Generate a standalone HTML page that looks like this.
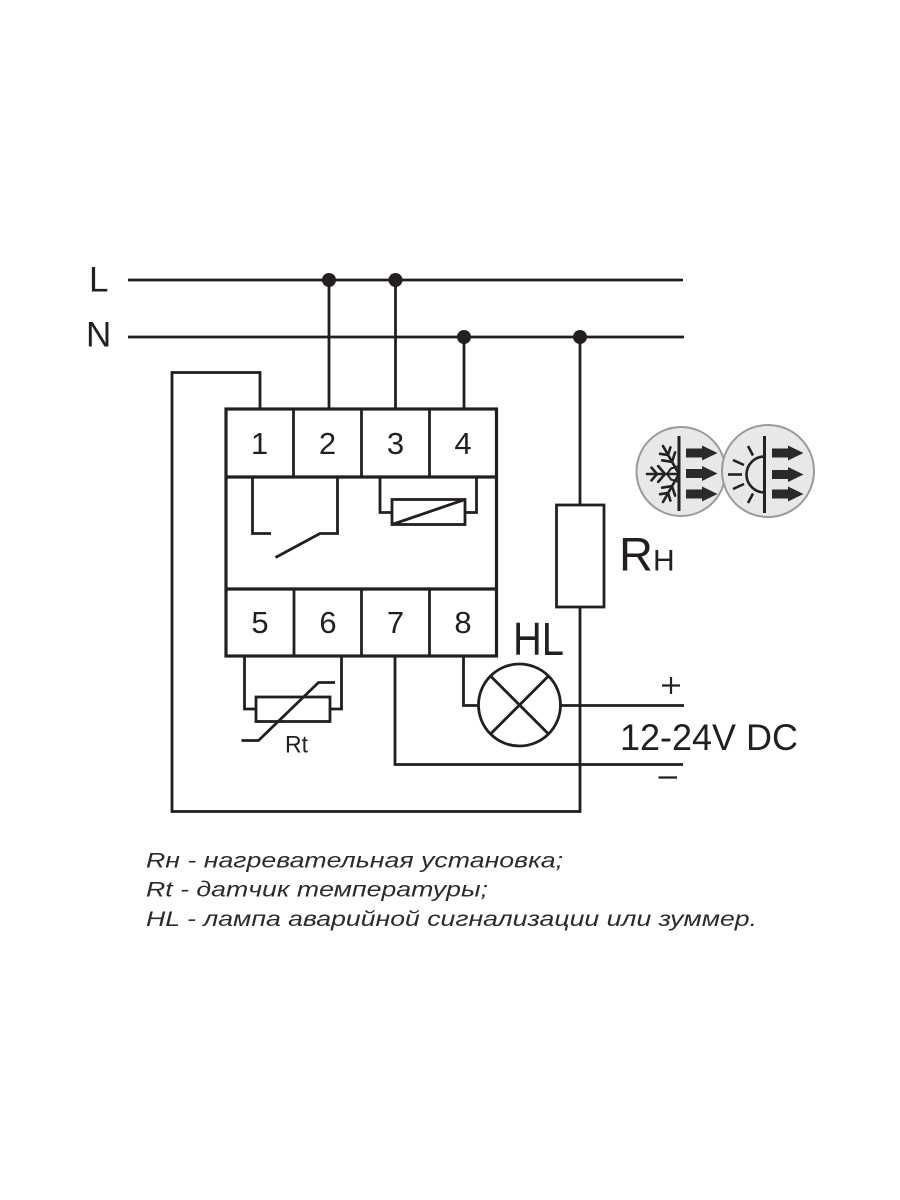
<!DOCTYPE html>
<html>
<head>
<meta charset="utf-8">
<style>
html,body{margin:0;padding:0;background:#fff;}
svg{display:block;}
</style>
</head>
<body>
<svg width="900" height="1200" viewBox="0 0 900 1200" xmlns="http://www.w3.org/2000/svg">
<rect width="900" height="1200" fill="#fff"/>
<g fill="none" stroke="#231f20" stroke-width="2.8" stroke-linejoin="miter" stroke-linecap="butt">
  <!-- L and N lines -->
  <line x1="128" y1="280" x2="683" y2="280"/>
  <line x1="128" y1="337" x2="684" y2="337"/>
  <!-- feeds -->
  <line x1="329" y1="280" x2="329" y2="409"/>
  <line x1="395.5" y1="280" x2="395.5" y2="409"/>
  <line x1="464" y1="337" x2="464" y2="409"/>
  <!-- left loop -->
  <polyline points="260,409 260,372.5 172,372.5 172,811.5 580,811.5 580,607"/>
  <line x1="580" y1="337" x2="580" y2="505"/>
  <!-- Rh -->
  <rect x="556.5" y="505" width="47.5" height="102"/>
  <!-- relay block -->
  <rect x="226" y="409" width="270.5" height="247" stroke-width="3.2"/>
  <line x1="226" y1="477" x2="496.5" y2="477" stroke-width="3.2"/>
  <line x1="226" y1="589" x2="496.5" y2="589" stroke-width="3.2"/>
  <line x1="293.5" y1="409" x2="293.5" y2="477"/>
  <line x1="361.5" y1="409" x2="361.5" y2="477"/>
  <line x1="429.5" y1="409" x2="429.5" y2="477"/>
  <line x1="294" y1="589" x2="294" y2="656"/>
  <line x1="361.5" y1="589" x2="361.5" y2="656"/>
  <line x1="429.5" y1="589" x2="429.5" y2="656"/>
  <!-- relay contact -->
  <polyline points="252.5,477 252.5,533.5 271,533.5"/>
  <polyline points="337.5,477 337.5,533.5 320,533.5 275.5,557.5"/>
  <!-- coil -->
  <polyline points="380,477 380,512.5 392,512.5"/>
  <polyline points="476.5,477 476.5,512.5 465,512.5"/>
  <rect x="392" y="499.5" width="73" height="25"/>
  <line x1="392" y1="524.5" x2="465" y2="499.5"/>
  <!-- Rt -->
  <polyline points="244.5,656 244.5,709 256,709"/>
  <polyline points="341.5,656 341.5,709 330,709"/>
  <rect x="256" y="697" width="74" height="24.5"/>
  <polyline points="241.5,740.5 258.5,740.5 318.5,682.5 335,682.5"/>
  <!-- terminal 7 -->
  <polyline points="395,656 395,764.5 683,764.5"/>
  <!-- terminal 8 to lamp -->
  <polyline points="463.5,656 463.5,705.5 478.5,705.5"/>
  <circle cx="519.5" cy="705" r="41"/>
  <line x1="490.5" y1="676" x2="548.5" y2="734"/>
  <line x1="548.5" y1="676" x2="490.5" y2="734"/>
  <line x1="560.5" y1="705.5" x2="684" y2="705.5"/>
  <!-- + and - -->
  <line x1="662" y1="685.5" x2="680" y2="685.5" stroke-width="2.2"/>
  <line x1="671" y1="677" x2="671" y2="694" stroke-width="2.2"/>
  <line x1="658.5" y1="777.5" x2="677" y2="777.5" stroke-width="2.2"/>
</g>
<!-- junction dots -->
<g fill="#231f20">
  <circle cx="329" cy="280" r="7"/>
  <circle cx="395.5" cy="280" r="7"/>
  <circle cx="464" cy="337" r="7"/>
  <circle cx="580" cy="337" r="7"/>
</g>
<!-- labels -->
<g fill="#231f20" font-family="'Liberation Sans', sans-serif">
  <text x="89" y="291.5" font-size="35">L</text>
  <text x="86" y="346.5" font-size="35">N</text>
  <text x="259.5" y="454" font-size="31" text-anchor="middle">1</text>
  <text x="327.5" y="454" font-size="31" text-anchor="middle">2</text>
  <text x="395.5" y="454" font-size="31" text-anchor="middle">3</text>
  <text x="463" y="454" font-size="31" text-anchor="middle">4</text>
  <text x="260" y="633" font-size="31" text-anchor="middle">5</text>
  <text x="328" y="633" font-size="31" text-anchor="middle">6</text>
  <text x="395.5" y="633" font-size="31" text-anchor="middle">7</text>
  <text x="463" y="633" font-size="31" text-anchor="middle">8</text>
  <text x="285" y="752.5" font-size="24" textLength="23" lengthAdjust="spacingAndGlyphs">Rt</text>
  <text x="513" y="655" font-size="46" textLength="51" lengthAdjust="spacingAndGlyphs">HL</text>
  <text x="619" y="570.7" font-size="47">R<tspan font-size="30">H</tspan></text>
  <text x="620" y="750" font-size="37" textLength="178" lengthAdjust="spacingAndGlyphs">12-24V DC</text>
</g>
<!-- icons -->
<g>
  <circle cx="681" cy="471.5" r="44.5" fill="#e8e8e8" stroke="#9a9a9a" stroke-width="2"/>
  <circle cx="768" cy="471" r="46" fill="#e8e8e8" stroke="#9a9a9a" stroke-width="2"/>
  <g stroke="#222" stroke-width="3" fill="none" stroke-linecap="butt">
    <line x1="679" y1="436" x2="679" y2="511"/>
    <line x1="764.5" y1="436" x2="764.5" y2="513"/>
  </g>
  <!-- snowflake -->
  <g stroke="#222" stroke-width="2.6" fill="none" stroke-linecap="round">
    <line x1="679" y1="474" x2="647" y2="474"/>
    <line x1="679" y1="474" x2="663" y2="446"/>
    <line x1="679" y1="474" x2="663" y2="502"/>
    <polyline points="658.2,466.1 665,474 658.2,481.9"/>
    <polyline points="651.5,467.6 657,474 651.5,480.4"/>
    <polyline points="662.1,460.3 672,461.9 675.1,452.4"/>
    <polyline points="660.1,453.8 668,455 670.4,447.4"/>
    <polyline points="675.1,495.6 672,486.1 662.1,487.7"/>
    <polyline points="670.4,500.6 668,493 660.1,494.2"/>
    <polygon points="679,466 671,468.5 667,474 671,479.5 679,482" stroke-width="2"/>
  </g>
  <!-- sun -->
  <g stroke="#222" stroke-width="2.6" fill="none">
    <path d="M764.5,456.5 A18,18 0 0 0 764.5,492.5"/>
    <line x1="742" y1="474.5" x2="728" y2="474.5"/>
    <line x1="744" y1="465" x2="733" y2="460"/>
    <line x1="744" y1="484" x2="733" y2="489"/>
    <line x1="753" y1="455.5" x2="748" y2="446"/>
    <line x1="753" y1="493.5" x2="748" y2="503"/>
  </g>
  <!-- arrows -->
  <g fill="#2a2a2a">
    <path d="M686,448.5 H702 V445.5 L717.5,453 L702,460.5 V457.5 H686 Z"/>
    <path d="M686,469 H702 V466 L717.5,473.5 L702,481 V478 H686 Z"/>
    <path d="M686,489.5 H702 V486.5 L717.5,494 L702,501.5 V498.5 H686 Z"/>
    <path d="M772,448.5 H788 V445.5 L803.5,453 L788,460.5 V457.5 H772 Z"/>
    <path d="M772,470 H788 V467 L803.5,474.5 L788,482 V479 H772 Z"/>
    <path d="M772,489.5 H788 V486.5 L803.5,494 L788,501.5 V498.5 H772 Z"/>
  </g>
</g>
<!-- legend -->
<g fill="#2b2b2b" font-family="'Liberation Sans', sans-serif" font-style="italic" font-size="21">
  <text x="146" y="867.5" textLength="417" lengthAdjust="spacingAndGlyphs">Rн - нагревательная установка;</text>
  <text x="146" y="896.7" textLength="342" lengthAdjust="spacingAndGlyphs">Rt - датчик температуры;</text>
  <text x="146" y="926" textLength="611" lengthAdjust="spacingAndGlyphs">HL - лампа аварийной сигнализации или зуммер.</text>
</g>
</svg>
</body>
</html>
